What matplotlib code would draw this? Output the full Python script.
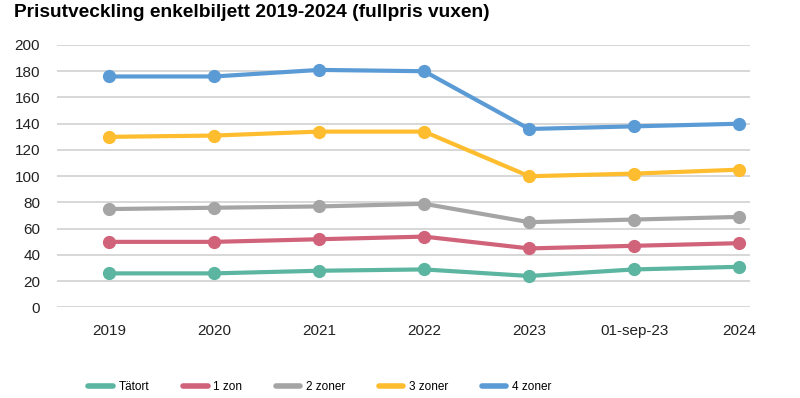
import matplotlib.pyplot as plt

plt.rcParams['font.family'] = ['Liberation Sans', 'DejaVu Sans']

# x categories
labels = ['2019', '2020', '2021', '2022', '2023', '01-sep-23', '2024']

# prices per zone
tatort = [26, 26, 28, 29, 24, 29, 31]
zon1 = [50, 50, 52, 54, 45, 47, 49]
zoner2 = [75, 76, 77, 79, 65, 67, 69]
zoner3 = [130, 131, 134, 134, 100, 102, 105]
zoner4 = [176, 176, 181, 180, 136, 138, 140]

series = [
    ('Tätort', tatort, '#5bb5a0'),
    ('1 zon', zon1, '#d0637a'),
    ('2 zoner', zoner2, '#a5a5a5'),
    ('3 zoner', zoner3, '#fdbd2e'),
    ('4 zoner', zoner4, '#5b9bd5'),
]

fig = plt.figure(figsize=(8, 3.98), dpi=100)
ax = fig.add_axes([0.071, 0.2274, 0.866, 0.6596])

x = list(range(len(labels)))
handles = []
for name, vals, col in series:
    ax.plot(x, vals, '-', color=col, lw=3, marker='o', ms=8.5, zorder=3)
    h, = plt.plot([], [], '-', color=col, lw=4, solid_capstyle='round')
    handles.append((h, name))

ax.set_ylim(0, 200)
ax.set_yticks(range(0, 201, 20))
ax.set_xlim(-0.5, 6.1)
ax.set_xticks(x)
ax.set_xticklabels(labels)
ax.grid(axis='y', color='#d4d4d4', lw=1.3, zorder=0)
for s in ax.spines.values():
    s.set_visible(False)
ax.tick_params(axis='both', length=0, labelsize=11, colors='#222222')
ax.tick_params(axis='y', pad=12)
ax.tick_params(axis='x', pad=12)

fig.text(0.018, 0.99, 'Prisutveckling enkelbiljett 2019-2024 (fullpris vuxen)',
         fontsize=13.8, fontweight='bold', ha='left', va='top')

fig.legend([h for h, n in handles], [n for h, n in handles], ncol=5,
           loc='center', bbox_to_anchor=(0.4, 0.028), frameon=False,
           fontsize=8.5, handlelength=2.1, handletextpad=0.5, columnspacing=2.8)

fig.savefig('out.png', dpi=100)
